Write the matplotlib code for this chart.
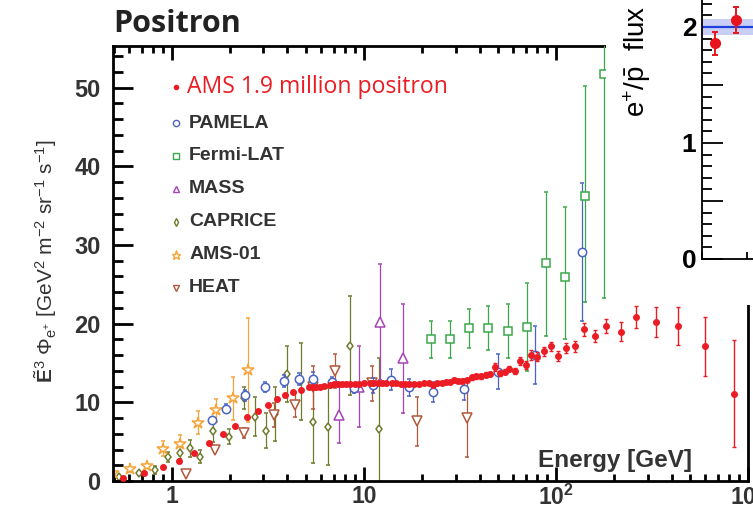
import matplotlib
matplotlib.use('Agg')
import matplotlib.pyplot as plt
from matplotlib.ticker import MultipleLocator, LogLocator, NullFormatter, FuncFormatter
from matplotlib.patches import Rectangle

plt.rcParams['font.family'] = ['Liberation Sans', 'DejaVu Sans']
plt.rcParams['mathtext.fontset'] = 'custom'
plt.rcParams['mathtext.rm'] = 'Liberation Sans'
plt.rcParams['mathtext.it'] = 'Liberation Sans:italic'
plt.rcParams['mathtext.bf'] = 'Liberation Sans:bold'

# ---- AMS-02 positron flux (E^3 * flux) ----
ams_E = [0.556, 0.716, 0.898, 1.087, 1.30, 1.56, 1.84, 2.12, 2.45, 2.80,
         3.15, 3.51, 3.86, 4.25, 4.73, 5.17, 5.42, 5.64, 5.92, 6.23,
         6.62, 6.95, 7.31, 7.70, 8.08, 8.48, 8.96, 9.48, 10.06, 10.7,
         11.2, 11.8, 12.4, 13.1, 14.0, 14.7, 15.6, 16.4, 17.2, 18.3,
         19.3, 20.6, 21.7, 22.8, 24.0, 25.4, 26.7, 28.0, 29.5, 31.0,
         32.6, 34.6, 36.5, 38.5, 40.9, 43.1, 45.2, 48.2, 51.0, 54.2,
         57.0, 61.0, 65.0, 69.6, 74.2, 80.0, 87.0, 94.6, 103, 113,
         125, 140, 160, 183, 218, 262, 330, 432, 594, 841]
ams_flux = [0.4, 1.0, 1.8, 2.5, 3.6, 4.8, 6.0, 7.0, 8.1, 8.9,
            9.7, 10.4, 10.9, 11.3, 11.6, 11.9, 11.9, 11.9, 11.9, 12.1,
            12.2, 12.3, 12.3, 12.3, 12.3, 12.3, 12.3, 12.3, 12.4, 12.4,
            12.4, 12.45, 12.4, 12.4, 12.4, 12.4, 12.3, 12.3, 12.3, 12.3,
            12.3, 12.5, 12.4, 12.2, 12.4, 12.5, 12.6, 12.6, 12.8, 12.7,
            12.7, 12.8, 13.2, 13.3, 13.3, 13.5, 13.6, 14.5, 13.7, 13.9,
            14.3, 14.0, 15.3, 14.8, 16.0, 15.8, 16.5, 17.1, 15.9, 16.9,
            17.1, 19.3, 18.4, 19.7, 19.0, 20.9, 20.2, 19.7, 17.1, 11.1]
ams_err = [0.05, 0.05, 0.05, 0.05, 0.05, 0.05, 0.1, 0.1, 0.1, 0.1,
           0.1, 0.1, 0.1, 0.1, 0.1, 0.1, 0.1, 0.1, 0.1, 0.1,
           0.1, 0.1, 0.1, 0.1, 0.1, 0.1, 0.1, 0.1, 0.1, 0.1,
           0.15, 0.15, 0.15, 0.15, 0.15, 0.15, 0.15, 0.15, 0.15, 0.15,
           0.2, 0.2, 0.2, 0.2, 0.2, 0.2, 0.2, 0.2, 0.25, 0.25,
           0.25, 0.25, 0.3, 0.3, 0.3, 0.3, 0.3, 0.5, 0.3, 0.3,
           0.35, 0.35, 0.5, 0.5, 0.6, 0.6, 0.55, 0.6, 0.65, 0.65,
           0.65, 0.85, 0.75, 0.85, 1.25, 1.4, 1.9, 2.4, 3.8, 6.8]

pamela_E = [1.62, 1.92, 2.39, 3.04, 3.82, 4.57, 5.42, 6.83, 8.85, 11.2,
            13.9, 17.2, 23.0, 33.3, 50.1, 77.8, 136]
pamela_flux = [7.75, 9.2, 10.9, 11.9, 12.7, 13.0, 13.0, 12.6, 11.8, 12.2,
               12.9, 11.9, 11.3, 11.65, 13.9, 16.0, 29.1]
pamela_err = [0.4, 0.6, 0.68, 0.64, 0.76, 0.76, 0.8, 0.68, 0.64, 0.95,
              1.35, 1.1, 1.27, 1.37, 2.2, 3.66, 8.8]

fermi_E = [22.3, 28.1, 35.4, 44.5, 56.1, 70.7, 88.7, 111, 141.5, 177]
fermi_flux = [18.0, 18.0, 19.4, 19.5, 19.1, 19.6, 27.7, 25.9, 36.2, 51.8]
fermi_err_lo = [2.4, 2.4, 2.45, 2.8, 3.4, 5.6, 9.3, 7.8, 13.4, 28.5]
fermi_err_hi = [2.4, 2.4, 2.45, 2.8, 3.4, 5.6, 9.1, 8.9, 14.0, 28.0]

mass_E = [7.4, 9.4, 12.1, 15.9]
mass_flux = [8.4, 12.0, 20.2, 15.6]
mass_err = [3.6, 5.1, 7.4, 6.9]

caprice_E = [0.531, 0.676, 0.819, 0.957, 1.10, 1.25, 1.40, 1.64, 1.99, 2.38,
             2.70, 3.08, 3.43, 3.97, 4.72, 5.42, 6.49, 8.51, 12.0]
caprice_flux = [0.55, 1.0, 1.4, 3.1, 3.6, 4.15, 3.1, 6.3, 5.6, 10.5,
                8.2, 6.4, 8.5, 13.6, 12.7, 7.5, 6.9, 17.2, 6.6]
caprice_err = [0.2, 0.25, 0.5, 0.64, 0.8, 1.1, 0.85, 1.37, 0.95, 1.4,
               2.45, 2.2, 3.4, 3.6, 4.9, 5.2, 4.9, 6.3, 9.0]

ams01_E = [0.496, 0.605, 0.739, 0.902, 1.10, 1.37, 1.69, 2.07, 2.50]
ams01_flux = [1.0, 1.5, 1.9, 4.1, 4.7, 7.4, 9.0, 10.5, 14.1]
ams01_err = [0.3, 0.3, 0.3, 0.93, 1.15, 1.48, 1.48, 2.75, 6.6]

heat_E = [1.19, 1.67, 2.38, 3.39, 4.39, 5.42, 7.11, 11.0, 18.9, 34.4]
heat_flux = [0.9, 4.0, 6.1, 8.4, 9.7, 11.9, 14.0, 12.4, 7.6, 8.0]
heat_err = [0.2, 0.3, 0.64, 1.48, 1.6, 2.75, 2.2, 2.2, 3.1, 4.95]

# inset: e+/pbar flux ratio
inset_R = [62.7, 67.4, 72.8]
inset_ratio = [1.86, 2.06, 1.98]
inset_err = [0.10, 0.11, 0.10]
ratio_fit = 2.0
ratio_band = 0.065

labels = ['AMS 1.9 million positron', 'PAMELA', 'Fermi-LAT', 'MASS',
          'CAPRICE', 'AMS-01', 'HEAT']
colors = ['#ec1c24', '#4a64c4', '#3aa84a', '#a643b5',
          '#6e7b2e', '#f5a43a', '#b0583a']
markers = ['o', 'o', 's', '^', 'd', '*', 'v']

fig = plt.figure(figsize=(7.53, 5.09), dpi=100)
ax = fig.add_axes([0.1501, 0.0550, 0.8433, 0.8546])
ax.set_xscale('log')

common = dict(elinewidth=0.9, capsize=1.5, capthick=0.9, linestyle='none', mew=1.1)
ax.errorbar(caprice_E, caprice_flux, yerr=caprice_err, marker='d', ms=4.5,
            mfc='white', mec=colors[4], ecolor=colors[4], zorder=2, **common)
ax.errorbar(heat_E, heat_flux, yerr=heat_err, marker='v', ms=6.5,
            mfc='white', mec=colors[6], ecolor=colors[6], zorder=2, **common)
ax.errorbar(mass_E, mass_flux, yerr=mass_err, marker='^', ms=6.5,
            mfc='white', mec=colors[3], ecolor=colors[3], zorder=2, **common)
ax.errorbar(ams01_E, ams01_flux, yerr=ams01_err, marker='*', ms=9,
            mfc='white', mec=colors[5], ecolor=colors[5], zorder=2, **common)
ax.errorbar(pamela_E, pamela_flux, yerr=pamela_err, marker='o', ms=6,
            mfc='white', mec=colors[1], ecolor=colors[1], zorder=3, **common)
ax.errorbar(fermi_E, fermi_flux, yerr=[fermi_err_lo, fermi_err_hi], marker='s', ms=6,
            mfc='white', mec=colors[2], ecolor=colors[2], zorder=3, **common)
ax.errorbar(ams_E, ams_flux, yerr=ams_err, marker='o', ms=4,
            mfc=colors[0], mec=colors[0], ecolor=colors[0], zorder=4,
            elinewidth=1.0, capsize=1.6, capthick=1.0, linestyle='none')

ax.set_xlim(0.494, 982)
ax.set_ylim(0, 55.3)

# axes styling
for side in ['left', 'bottom', 'top', 'right']:
    ax.spines[side].set_linewidth(2.0)
ax.yaxis.set_major_locator(MultipleLocator(10))
ax.yaxis.set_minor_locator(MultipleLocator(2))
ax.xaxis.set_minor_locator(LogLocator(base=10, subs=[2, 3, 4, 5, 6, 7, 8, 9]))
ax.xaxis.set_minor_formatter(NullFormatter())
ax.set_xticks([1, 10, 100, 1000])
ax.set_xticklabels(['1', '10', r'$\mathbf{10^{2}}$', r'$\mathbf{10^{3}}$'])
ax.tick_params(axis='y', which='major', direction='in', length=14.5, width=2.0,
               labelsize=17, pad=9, right=False, labelcolor='#333333')
ax.tick_params(axis='y', which='minor', direction='in', length=7.2, width=2.0, right=False)
ax.tick_params(axis='x', which='major', direction='in', length=10, width=2.0,
               labelsize=16.5, pad=3, top=True, labelcolor='#333333')
ax.tick_params(axis='x', which='minor', direction='in', length=5, width=2.0, top=True)
for lab in ax.get_xticklabels() + ax.get_yticklabels():
    lab.set_fontweight('bold')

ax.set_xlabel('Energy [GeV]', fontsize=17.5, fontweight='bold', color='#333333',
              ha='right', va='baseline')
ax.xaxis.set_label_coords(0.912, 0.032)
ax.set_ylabel(r'$\tilde{\mathbf{E}}^{3}\ \Phi_{\mathrm{e}^{+}}$ [GeV$^{2}$ m$^{-2}$ sr$^{-1}$ s$^{-1}$]',
              fontsize=15, color='#333333', va='center')
ax.yaxis.set_label_coords(-0.107, 0.505)

# legend rows drawn by hand
leg_sizes = [3, 4.5, 4.5, 5, 4, 6.5, 5]
for i, (lab, col, mk) in enumerate(zip(labels, colors, markers)):
    y = 0.9057 if i == 0 else 0.8987 - 0.0757 * i
    filled = col if i == 0 else 'white'
    ax.plot([0.0992], [y], marker=mk, ms=leg_sizes[i], mfc=filled, mec=col,
            mew=1.0, transform=ax.transAxes, clip_on=False, linestyle='none')
    if i == 0:
        ax.text(0.1165, y, lab, transform=ax.transAxes, fontsize=16.6,
                family='Open Sans', color=col, va='center')
    else:
        ax.text(0.1197, y, lab, transform=ax.transAxes, fontsize=14,
                fontweight='bold', color='#333333', va='center')

fig.text(0.150, 0.937, 'Positron', fontsize=22, fontweight='bold',
         family='Open Sans', color='#222222', va='baseline')

# white pad of the inset
fig.patches.append(Rectangle((606 / 753, 1 - 305 / 509), 1, 1, transform=fig.transFigure,
                             facecolor='white', edgecolor='none', zorder=2))

axin = fig.add_axes([702 / 753, 1 - 259 / 509, 672 / 753, 290 / 509], zorder=4)
axin.set_xscale('log')
axin.set_xlim(60, 600)
axin.set_ylim(0, 2.5)
axin.axhspan(ratio_fit - ratio_band, ratio_fit + ratio_band, color='#c9cff4', lw=0)
axin.axhline(ratio_fit, color='#1f3fe0', lw=1.6)
axin.errorbar(inset_R, inset_ratio, yerr=inset_err, marker='o', ms=7, color='#e8141c',
              ecolor='#e8141c', elinewidth=1.4, capsize=2.2, capthick=1.4, linestyle='none')
for side in ['left', 'bottom', 'top', 'right']:
    axin.spines[side].set_linewidth(1.3)
axin.yaxis.set_major_locator(MultipleLocator(0.5))
axin.yaxis.set_minor_locator(MultipleLocator(0.1))
axin.yaxis.set_major_formatter(FuncFormatter(lambda v, p: '%d' % v if abs(v - round(v)) < 1e-6 else ''))
axin.xaxis.set_minor_locator(LogLocator(base=10, subs=[2, 3, 4, 5, 6, 7, 8, 9]))
axin.tick_params(axis='y', which='major', direction='in', length=15, width=1.3,
                 labelsize=19, pad=4)
axin.tick_params(axis='y', which='minor', direction='in', length=7, width=1.3)
axin.tick_params(axis='x', which='both', direction='in', length=5, width=1.3,
                 labelbottom=False)
for lab in axin.get_yticklabels():
    lab.set_fontweight('bold')

fig.text(0.846, 0.770, r'e$^{+}$/$\bar{\mathrm{p}}$  flux ratio', rotation=90,
         ha='center', va='bottom', fontsize=20, color='black')

fig.savefig('out.png', dpi=100)
